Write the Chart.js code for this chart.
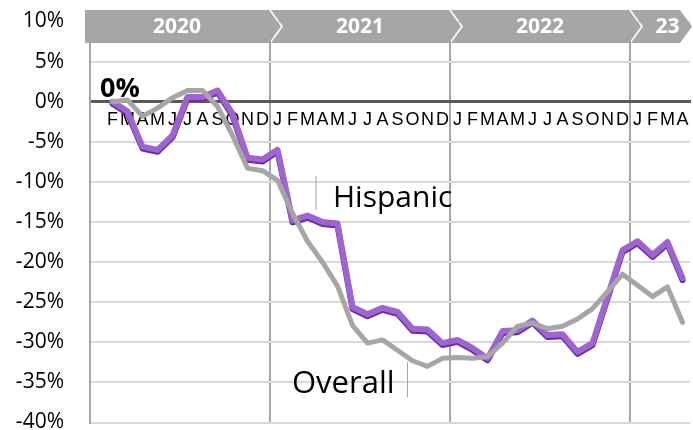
<!DOCTYPE html>
<html>
<head>
<meta charset="utf-8">
<script src="https://cdn.jsdelivr.net/npm/chart.js@4.4.1/dist/chart.umd.min.js"></script>
<style>
  html, body { margin: 0; padding: 0; background: #fff; }
</style>
</head>
<body>
<canvas id="mycanvas" width="693" height="430"></canvas>
<script>
// Jan 2020 .. Apr 2023 (first month has no data)
var months = ['J','F','M','A','M','J','J','A','S','O','N','D',
              'J','F','M','A','M','J','J','A','S','O','N','D',
              'J','F','M','A','M','J','J','A','S','O','N','D',
              'J','F','M','A'];
var years = ['2020', '2021', '2022', '23'];

var hispanic = [null, 0, -1.2, -5.6, -6.0, -4.2, 0.6, 0.6, 1.4, -1.5, -7.0, -7.2,
                -6.0, -14.8, -14.2, -15.0, -15.2, -25.6, -26.5, -25.7, -26.2, -28.3, -28.4, -30.1,
                -29.7, -30.7, -32.0, -28.6, -28.5, -27.3, -29.1, -29.0, -31.2, -30.1, -24.3, -18.5,
                -17.4, -19.1, -17.5, -22.0];
var overall = [null, 0, 0.2, -1.8, -0.8, 0.5, 1.4, 1.4, -0.6, -4.2, -8.3, -8.6,
               -9.8, -13.9, -17.4, -20.0, -23.0, -27.9, -30.1, -29.7, -31.0, -32.3, -33.0, -32.0,
               -31.9, -32.0, -31.8, -30.1, -28.0, -27.6, -28.3, -28.0, -27.1, -25.8, -23.7, -21.5,
               -22.9, -24.3, -23.1, -27.5];

var yMin = -40, yMax = 10, yStep = 5;

// darker edge under the purple line
var lineShadow = {
	id: 'lineShadow',
	beforeDatasetDraw: function(chart, args) {
		if (chart.data.datasets[args.index].label !== 'Hispanic') return;
		var ctx = chart.ctx;
		ctx.save();
		ctx.shadowColor = '#6a2ca6';
		ctx.shadowOffsetX = 0;
		ctx.shadowOffsetY = 2;
		ctx.shadowBlur = 0;
	},
	afterDatasetDraw: function(chart, args) {
		if (chart.data.datasets[args.index].label !== 'Hispanic') return;
		chart.ctx.restore();
	}
};

var decorations = {
	id: 'decorations',
	afterDraw: function(chart) {
		var ctx = chart.ctx;
		var ca = chart.chartArea;
		var xs = chart.scales.x;
		var step = xs.getPixelForValue(1) - xs.getPixelForValue(0);
		var top = 10, bot = 43, mid = (top + bot) / 2;

		// year band
		ctx.save();
		for (var i = 0; i < years.length; i++) {
			var left = xs.getPixelForValue(i * 12) - step / 2;
			var right = (i < years.length - 1) ? xs.getPixelForValue((i + 1) * 12) - step / 2 - 1 : ca.right - 10;
			if (i === 0) left = left - 5; else left = left + 1;
			ctx.beginPath();
			ctx.moveTo(left, top);
			ctx.lineTo(right, top);
			ctx.lineTo(right + 12, mid);
			ctx.lineTo(right, bot);
			ctx.lineTo(left, bot);
			if (i > 0) ctx.lineTo(left + 12, mid);
			ctx.closePath();
			ctx.fillStyle = '#a6a6a6';
			ctx.fill();

			var cx = (left + right) / 2;
			if (right - left < 100) cx = (left + 12 + right + 12) / 2;
			ctx.fillStyle = '#fff';
			ctx.font = 'bold 21px "Open Sans"';
			ctx.textAlign = 'center';
			ctx.textBaseline = 'middle';
			ctx.fillText(years[i], cx, mid + 1);
		}

		// labels
		ctx.fillStyle = '#000';
		ctx.textAlign = 'left';
		ctx.textBaseline = 'alphabetic';
		ctx.font = 'bold 27px "Open Sans"';
		ctx.fillText('0%', ca.left + 10, 97);
		ctx.font = '30px "Open Sans"';
		ctx.fillText('Hispanic', 333, 207);
		ctx.font = '31px "Open Sans"';
		ctx.fillText('Overall', 292, 393);

		ctx.strokeStyle = '#a6a6a6';
		ctx.lineWidth = 1;
		ctx.beginPath();
		ctx.moveTo(316, 176); ctx.lineTo(316, 210);
		ctx.moveTo(407.5, 362); ctx.lineTo(407.5, 397);
		ctx.stroke();
		ctx.restore();
	}
};

var chartdata = {
	labels: months,
	datasets: [
		{
			label: 'Hispanic',
			data: hispanic,
			borderColor: '#a064d0',
			borderWidth: 6,
			pointRadius: 0,
			tension: 0,
			borderJoinStyle: 'round',
			borderCapStyle: 'round',
			order: 1
		},
		{
			label: 'Overall',
			data: overall,
			borderColor: '#a6a6a6',
			borderWidth: 5,
			pointRadius: 0,
			tension: 0,
			borderJoinStyle: 'round',
			borderCapStyle: 'round',
			order: 0
		}
	]
};

var ctx = document.getElementById('mycanvas');
var lineGraph = new Chart(ctx, {
	type: 'line',
	data: chartdata,
	plugins: [lineShadow, decorations],
	options: {
		responsive: false,
		animation: false,
		layout: { padding: { top: 21.5, right: 3, bottom: 7.5, left: 0 } },
		plugins: { legend: { display: false }, tooltip: { enabled: false } },
		scales: {
			x: {
				offset: true,
				position: { y: 0 },
				grid: {
					offset: true,
					drawTicks: false,
					lineWidth: 2,
					color: function(c) { return (c.index > 0 && c.index % 12 === 0) ? '#a6a6a6' : 'rgba(0,0,0,0)'; }
				},
				border: { color: '#595959', width: 3 },
				ticks: {
					autoSkip: false,
					maxRotation: 0,
					padding: 8,
					color: '#000',
					font: { family: 'Liberation Sans', size: 18 },
					callback: function(v, i) { return i === 0 ? '' : months[i]; }
				},
				afterFit: function(scale) { scale.height = 0; scale.paddingLeft = 0; scale.paddingRight = 0; }
			},
			y: {
				min: yMin,
				max: yMax,
				grid: {
					drawTicks: false,
					lineWidth: function(c) { return c.tick.value === 0 ? 3 : 2; },
					color: function(c) { return c.tick.value === 0 ? '#595959' : '#d9d9d9'; }
				},
				border: { color: '#a6a6a6', width: 2 },
				ticks: {
					stepSize: yStep,
					padding: 26,
					color: '#000',
					font: { family: 'Open Sans', size: 21 },
					callback: function(v) { return v + '%'; }
				},
				afterFit: function(scale) { scale.width = 90; scale.paddingTop = 0; scale.paddingBottom = 0; }
			}
		}
	}
});
</script>
</body>
</html>
